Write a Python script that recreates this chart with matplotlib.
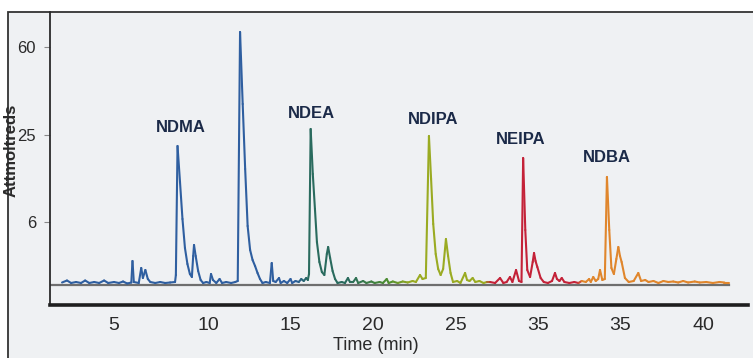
import numpy as np
import matplotlib
matplotlib.use("Agg")
import matplotlib.pyplot as plt
from matplotlib.collections import LineCollection
from matplotlib.colors import to_rgb
from matplotlib.patches import Rectangle

plt.rcParams['font.family'] = ['Liberation Sans', 'DejaVu Sans']

# chromatogram trace (time in min, signal in axis units)
ndma_t = [1.15, 1.45, 1.7, 2.0, 2.3, 2.55, 2.8, 3.1, 3.4, 3.7, 3.95, 4.3, 4.6, 4.85, 5.1,
          5.35, 5.42, 5.5, 5.8, 5.95, 6.05, 6.2, 6.35, 6.5, 6.8, 7.1, 7.4, 7.7, 8.0, 8.05,
          8.15, 8.3, 8.45, 8.6, 8.75, 8.9, 9.02, 9.1, 9.15, 9.25, 9.4, 9.55, 9.7, 9.9, 10.1,
          10.18, 10.3, 10.5, 10.7, 10.85, 11.1, 11.4, 11.65, 11.8]
ndma_y = [0.15, 0.35, 0.1, 0.2, 0.1, 0.35, 0.1, 0.2, 0.1, 0.35, 0.1, 0.2, 0.1, 0.25, 0.05,
          0.15, 2.3, 0.2, 0.1, 1.6, 0.6, 1.4, 0.5, 0.2, 0.1, 0.2, 0.1, 0.15, 0.2, 0.9,
          13.8, 10.2, 6.5, 3.6, 2.0, 1.0, 0.7, 2.8, 3.9, 2.8, 1.3, 0.4, 0.1, 0.2, 0.1,
          1.0, 0.4, 0.1, 0.5, 0.1, 0.2, 0.1, 0.2, 0.3]

big_t = [11.94, 12.1, 12.25, 12.4, 12.55, 12.7, 12.85, 13.0, 13.15, 13.3, 13.5, 13.75,
         13.86, 13.95, 14.1, 14.3, 14.4, 14.6, 14.8, 15.0, 15.1, 15.3, 15.5, 15.65, 15.8,
         15.95, 16.05]
big_y = [25.2, 18.0, 11.5, 5.8, 3.4, 2.4, 1.8, 1.1, 0.5, 0.1, 0.2, 0.1,
         2.1, 0.3, 0.2, 0.6, 0.1, 0.3, 0.1, 0.5, 0.1, 0.3, 0.2, 0.5, 0.3,
         0.6, 0.4]

ndea_t = [16.12, 16.22, 16.35, 16.48, 16.6, 16.75, 16.9, 17.05, 17.2, 17.28, 17.4, 17.55,
          17.7, 17.85, 18.1, 18.3, 18.48, 18.6, 18.8, 18.97, 19.1, 19.4, 19.6, 19.9, 20.1,
          20.4, 20.6, 20.83, 20.95, 21.2, 21.5, 21.8, 22.1]
ndea_y = [1.0, 15.5, 11.0, 7.5, 4.2, 2.2, 1.2, 0.9, 3.0, 3.7, 2.6, 1.3,
          0.5, 0.1, 0.2, 0.1, 0.6, 0.2, 0.2, 0.6, 0.1, 0.3, 0.1, 0.25, 0.1,
          0.2, 0.1, 0.5, 0.1, 0.25, 0.1, 0.25, 0.15]

ndipa_t = [22.4, 22.6, 22.85, 23.0, 23.2, 23.39, 23.52, 23.65, 23.8, 23.95, 24.1, 24.25,
           24.42, 24.55, 24.7, 24.85, 25.1, 25.3, 25.58, 25.7, 25.85, 26.04, 26.2, 26.45,
           26.7, 26.9]
ndipa_y = [0.3, 0.2, 0.9, 0.5, 0.6, 14.8, 10.5, 6.0, 3.0, 1.5, 0.9, 1.5,
           4.5, 2.8, 1.1, 0.2, 0.3, 0.1, 1.1, 0.4, 0.3, 0.6, 0.2, 0.3,
           0.1, 0.2]

neipa_t = [27.1, 27.4, 27.7, 27.9, 28.1, 28.3, 28.45, 28.67, 28.85, 29.0, 29.1, 29.23,
           29.35, 29.52, 29.68, 29.76, 29.85, 29.96, 30.16, 30.35, 30.6, 30.85, 31.03,
           31.15, 31.3, 31.44, 31.6, 31.9, 32.2, 32.45]
neipa_y = [0.2, 0.1, 0.6, 0.1, 0.2, 0.7, 0.2, 1.4, 0.3, 0.2, 12.6, 5.4,
           1.4, 0.7, 2.2, 3.1, 2.3, 1.7, 0.6, 0.2, 0.1, 0.3, 1.1,
           0.5, 0.3, 0.6, 0.2, 0.1, 0.2, 0.1]

ndba_t = [32.65, 32.9, 33.1, 33.2, 33.35, 33.5, 33.65, 33.76, 33.9, 34.05, 34.18, 34.32,
          34.45, 34.6, 34.75, 34.87, 34.97, 35.07, 35.27, 35.5, 35.8, 36.08, 36.25, 36.5,
          36.7, 37.0, 37.3, 37.6, 37.9, 38.2, 38.5, 38.8, 39.1, 39.5, 39.8, 40.2, 40.6,
          41.0, 41.3, 41.6]
ndba_y = [0.3, 0.2, 0.5, 0.2, 0.7, 0.3, 0.5, 1.4, 0.4, 0.5, 10.7, 5.4,
          1.6, 1.0, 2.5, 3.7, 2.8, 2.2, 0.6, 0.2, 0.3, 1.1, 0.3, 0.4,
          0.2, 0.3, 0.1, 0.3, 0.2, 0.25, 0.15, 0.3, 0.15, 0.25, 0.15, 0.2, 0.1,
          0.2, 0.15, 0.15]

# peak labels
peak_names = ['NDMA', 'NDEA', 'NDIPA', 'NEIPA', 'NDBA']
label_t = [8.36, 16.28, 23.64, 28.97, 34.18]
label_y = [15.6, 17.0, 16.4, 14.5, 12.7]

# axis ticks (labels as printed on the chart)
x_ticks = [4.25, 10, 15, 20, 25, 30, 35, 40]
x_labels = ['5', '10', '15', '20', '25', '35', '35', '40']
y_ticks = [6.2, 14.9, 23.7]
y_labels = ['6', '25', '60']

t = np.array(ndma_t + big_t + ndea_t + ndipa_t + neipa_t + ndba_t)
y = np.array(ndma_y + big_y + ndea_y + ndipa_y + neipa_y + ndba_y)

# colour stops along the time axis
stop_t = [0, 15.3, 16.1, 18.5, 21.0, 22.4, 26.9, 27.1, 32.45, 32.7, 45]
stop_c = ['#2f5fa0', '#2f5fa0', '#2a6b5e', '#2a6b5e', '#4f8f30', '#9aab22', '#9aab22',
          '#c42238', '#c42238', '#e0862c', '#e0862c']
stop_rgb = np.array([to_rgb(c) for c in stop_c])

fig = plt.figure(figsize=(7.53, 3.58), dpi=100)
fig.patch.set_facecolor('white')
frame = Rectangle((8 / 753, -0.05), 1.0, 1 - 12 / 358 + 0.05,
                  transform=fig.transFigure, facecolor='#eff1f3',
                  edgecolor='#333333', linewidth=1.3, zorder=-10)
fig.patches.append(frame)

ax = fig.add_axes([50 / 753, 1 - 305 / 358, 698 / 753, 293 / 358])
ax.set_facecolor('none')
ax.set_xlim(0.42, 42.73)
ax.set_ylim(-2.1, 27.2)

ax.plot([0.42, 41.6], [-0.1, -0.1], color='#6e6e6e', lw=1.6, zorder=1)

pts = np.column_stack([t, y]).reshape(-1, 1, 2)
segs = np.concatenate([pts[:-1], pts[1:]], axis=1)
mid = (t[:-1] + t[1:]) / 2
cols = np.column_stack([np.interp(mid, stop_t, stop_rgb[:, i]) for i in range(3)])
ax.add_collection(LineCollection(segs, colors=cols, linewidths=1.5, zorder=2,
                                 capstyle='round', joinstyle='round'))

for name, lt, ly in zip(peak_names, label_t, label_y):
    ax.text(lt, ly, name, ha='center', va='center', fontsize=12, fontweight='bold',
            color='#1b2a48')

ax.spines['top'].set_visible(False)
ax.spines['right'].set_visible(False)
ax.spines['left'].set_color('#2a2a2a')
ax.spines['left'].set_linewidth(1.3)
ax.spines['bottom'].set_color('#1e1e1e')
ax.spines['bottom'].set_linewidth(2.6)

ax.set_xticks(x_ticks)
ax.set_xticklabels(x_labels)
ax.set_yticks(y_ticks)
ax.set_yticklabels(y_labels)
ax.tick_params(axis='x', length=0, pad=9, labelsize=14, labelcolor='#2a2a2a')
ax.tick_params(axis='y', length=4, width=0.8, color='#888888', pad=6,
               labelsize=12, labelcolor='#2a2a2a')

fig.text(376 / 753, 1 - 337 / 358, 'Time (min)', ha='center', va='top',
         fontsize=13, color='#2a2a2a')
fig.text(11 / 753, 1 - 150 / 358, 'Attmoltreds', ha='center', va='center',
         rotation=90, fontsize=12, fontweight='bold', color='#2a2a2a')

fig.savefig('out.png', dpi=100, facecolor=fig.get_facecolor())
